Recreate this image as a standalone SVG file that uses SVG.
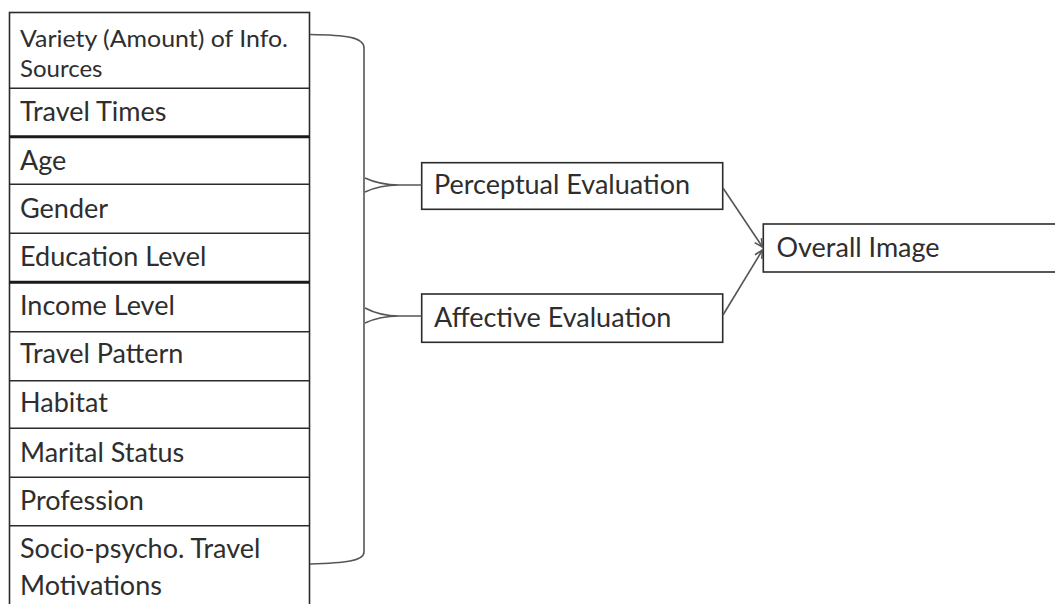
<svg xmlns="http://www.w3.org/2000/svg" width="1055" height="604" viewBox="0 0 1055 604">
  <defs>
    <style>
      .box { fill: #ffffff; stroke: #2b2b2b; stroke-width: 1.6; }
      .sep { stroke: #2b2b2b; stroke-width: 1.6; }
      .sep-thick { stroke: #1a1a1a; stroke-width: 3; }
      .lbl { font-family: Lato, "Open Sans", sans-serif; font-size: 27px; fill: #2e2e2e; }
      .lbl-sm { font-family: Lato, "Open Sans", sans-serif; font-size: 24px; fill: #2e2e2e; }
      .conn { fill: none; stroke: #555555; stroke-width: 1.6; }
    </style>
    <marker id="arrow" viewBox="0 0 10 10" refX="9" refY="5" markerWidth="10" markerHeight="10" markerUnits="userSpaceOnUse" orient="auto">
      <path d="M1,1 L9,5 L1,9" fill="none" stroke="#555555" stroke-width="1.6"/>
    </marker>
  </defs>
  <rect width="1055" height="604" fill="#ffffff"/>

  <!-- factor list column -->
  <g id="factors">
    <rect class="box" x="9.5" y="12.5" width="300" height="600"/>
    <line class="sep" x1="9.5" y1="88.3" x2="309.5" y2="88.3"/>
    <line class="sep-thick" x1="9.5" y1="136.7" x2="309.5" y2="136.7"/>
    <line class="sep" x1="9.5" y1="184.3" x2="309.5" y2="184.3"/>
    <line class="sep" x1="9.5" y1="233.3" x2="309.5" y2="233.3"/>
    <line class="sep-thick" x1="9.5" y1="282.3" x2="309.5" y2="282.3"/>
    <line class="sep" x1="9.5" y1="331.7" x2="309.5" y2="331.7"/>
    <line class="sep" x1="9.5" y1="380.7" x2="309.5" y2="380.7"/>
    <line class="sep" x1="9.5" y1="428.3" x2="309.5" y2="428.3"/>
    <line class="sep" x1="9.5" y1="477.3" x2="309.5" y2="477.3"/>
    <line class="sep" x1="9.5" y1="525.7" x2="309.5" y2="525.7"/>
  </g>
  <g id="f-variety"><text class="lbl-sm" x="20" y="47" textLength="268" lengthAdjust="spacingAndGlyphs">Variety (Amount) of Info.</text><text class="lbl-sm" x="20" y="77">Sources</text></g>
  <g id="f-travel-times"><text class="lbl" x="20" y="121">Travel Times</text></g>
  <g id="f-age"><text class="lbl" x="20" y="170">Age</text></g>
  <g id="f-gender"><text class="lbl" x="20" y="218">Gender</text></g>
  <g id="f-education"><text class="lbl" x="20" y="266">Education Level</text></g>
  <g id="f-income"><text class="lbl" x="20" y="315">Income Level</text></g>
  <g id="f-travel-pattern"><text class="lbl" x="20" y="363">Travel Pattern</text></g>
  <g id="f-habitat"><text class="lbl" x="20" y="412">Habitat</text></g>
  <g id="f-marital"><text class="lbl" x="20" y="462">Marital Status</text></g>
  <g id="f-profession"><text class="lbl" x="20" y="510">Profession</text></g>
  <g id="f-motivations"><text class="lbl" x="20" y="558">Socio-psycho. Travel</text><text class="lbl" x="20" y="595">Motivations</text></g>

  <!-- evaluations -->
  <g id="perceptual">
    <rect class="box" x="421.7" y="162.7" width="301" height="46.6"/>
    <text class="lbl" x="434" y="194">Perceptual Evaluation</text>
  </g>
  <g id="affective">
    <rect class="box" x="421.7" y="294" width="301" height="48.3"/>
    <text class="lbl" x="434" y="327">Affective Evaluation</text>
  </g>
  <g id="overall">
    <rect class="box" x="763.3" y="224" width="300" height="48"/>
    <text class="lbl" x="776.5" y="257">Overall Image</text>
  </g>

  <g id="connectors">
    <!-- grouping bracket -->
    <path class="conn" d="M310,34.5 C345,35 364,37 364,48 L364,552 C364,561 345,563 310,564"/>
    <!-- crow's feet into the evaluation boxes -->
    <path class="conn" d="M365,178 Q380,185 399,185 L421.7,185 M365,192 Q380,185 399,185"/>
    <path class="conn" d="M365,308 Q380,316 399,316 L421.7,316 M365,323 Q380,316 399,316"/>
    <!-- arrows to overall image -->
    <line class="conn" x1="723" y1="188" x2="762.5" y2="247" marker-end="url(#arrow)"/>
    <line class="conn" x1="723" y1="315" x2="762.5" y2="250" marker-end="url(#arrow)"/>
  </g>
</svg>
